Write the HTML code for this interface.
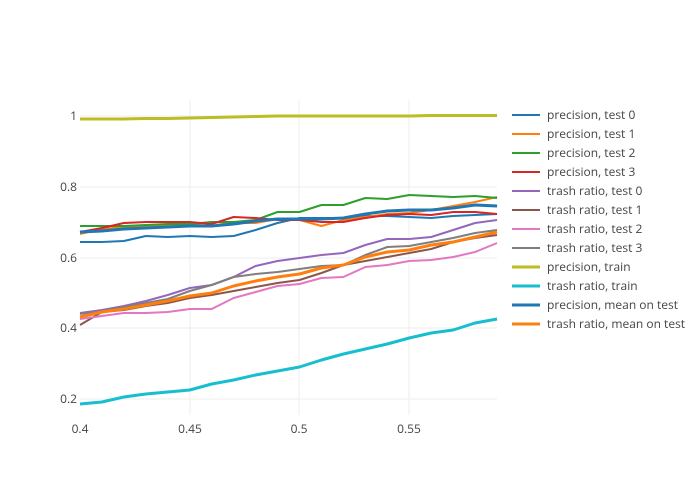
<!DOCTYPE html><html><head><style>body{margin:0;background:#fff}svg{display:block;font-family:"Open Sans","Liberation Sans",sans-serif}</style></head><body>
<svg width="700" height="500" xmlns="http://www.w3.org/2000/svg">
<g stroke="#eee" stroke-width="1">
<line x1="190" x2="190" y1="100" y2="415"/><line x1="299" x2="299" y1="100" y2="415"/><line x1="409" x2="409" y1="100" y2="415"/>
<line x1="80" x2="497" y1="116" y2="116"/><line x1="80" x2="497" y1="187" y2="187"/><line x1="80" x2="497" y1="258" y2="258"/><line x1="80" x2="497" y1="328" y2="328"/><line x1="80" x2="497" y1="399" y2="399"/>
</g>
<g font-size="12" fill="#444" text-anchor="end">
<text x="77" y="120">1</text><text x="77" y="191">0.8</text><text x="77" y="262">0.6</text><text x="77" y="332">0.4</text><text x="77" y="403">0.2</text>
</g>
<g font-size="12" fill="#444" text-anchor="middle">
<text x="80" y="433">0.4</text><text x="190" y="433">0.45</text><text x="299" y="433">0.5</text><text x="409" y="433">0.55</text>
</g>
<g fill="none" stroke-linejoin="round" id="s"></g>
<g font-size="12" fill="#444" id="l"></g>
<script>
var d=[
["precision, test 0","#1f77b4",2,[242,242,241,236,237,236,237,236,230,223,218,218,218,216,216,217,218,216,215,214]],
["precision, test 1","#ff7f0e",2,[234,229,227,226,226,225,222,223,223,219,220,226,220,217,214,213,210,206,202,197]],
["precision, test 2","#2ca02c",2,[226,226,226,225,224,224,222,222,220,212,212,205,205,198,199,195,196,197,196,198]],
["precision, test 3","#d62728",2,[232,228,223,222,222,222,224,217,218,220,220,222,222,218,215,214,215,212,212,214]],
["trash ratio, test 0","#9467bd",2,[313,310,306,301,295,288,285,277,266,261,258,255,253,245,239,239,237,230,223,220]],
["trash ratio, test 1","#8c564b",2,[325,312,310,306,303,298,295,291,287,283,280,273,265,261,257,253,249,242,238,235]],
["trash ratio, test 2","#e377c2",2,[319,316,313,313,312,309,309,298,292,286,284,278,277,267,265,261,260,257,252,243]],
["trash ratio, test 3","#7f7f7f",2,[314,311,307,303,299,291,285,277,274,272,269,266,265,255,247,246,242,238,233,230]],
["precision, train","#bcbd22",3,[119,119,119,118.5,118.5,118,117.5,117,116.5,116,116,116,116,116,116,116,115.5,115.5,115.5,115.5]],
["trash ratio, train","#17becf",3,[404,402,397,394,392,390,384,380,375,371,367,360,354,349,344,338,333,330,323,319]],
["precision, mean on test","#1f77b4",3,[232,231,229,228,227,226,226,224,221,219,219,219,218,214,211,210,210,208,205,206]],
["trash ratio, mean on test","#ff7f0e",3,[317,312,309,305,301,296,293,286,281,277,274,268,265,257,252,250,245,242,237,232]]];
var s=document.getElementById('s'),l=document.getElementById('l'),ns="http://www.w3.org/2000/svg";
d.forEach(function(e,k){var p=document.createElementNS(ns,'polyline');p.setAttribute('points',e[3].map(function(y,i){return (80+i*21.95)+','+y}).join(' '));p.setAttribute('stroke',e[1]);p.setAttribute('stroke-width',e[2]);s.appendChild(p);
var y=115+k*19;var ln=document.createElementNS(ns,'line');ln.setAttribute('x1',512);ln.setAttribute('x2',540);ln.setAttribute('y1',y);ln.setAttribute('y2',y);ln.setAttribute('stroke',e[1]);ln.setAttribute('stroke-width',e[2]);l.appendChild(ln);
var t=document.createElementNS(ns,'text');t.setAttribute('x',547);t.setAttribute('y',y+4);t.textContent=e[0];l.appendChild(t);});
</script>
</svg></body></html>
